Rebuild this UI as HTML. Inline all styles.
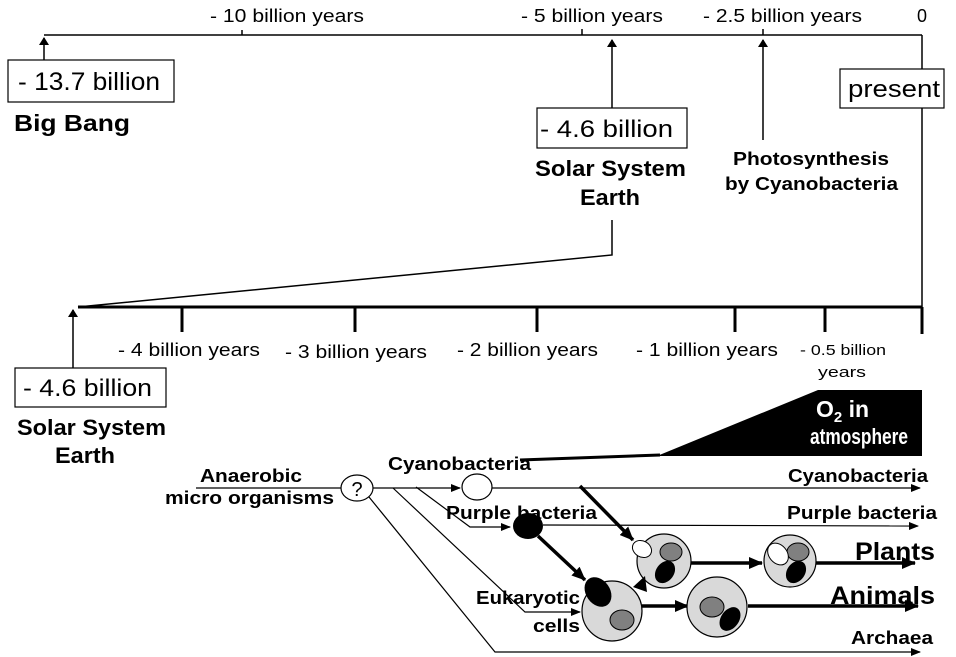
<!DOCTYPE html>
<html><head><meta charset="utf-8"><style>
html,body{margin:0;padding:0;background:#fff;}
svg{display:block;font-family:"Liberation Sans",Arial,sans-serif;}
.b{font-weight:bold;}
</style></head><body>
<svg width="956" height="657" viewBox="0 0 956 657" xmlns="http://www.w3.org/2000/svg">
<defs>
<marker id="a" markerWidth="10" markerHeight="8" refX="9" refY="4" orient="auto" markerUnits="userSpaceOnUse"><path d="M0,0 L10,4 L0,8 z" fill="#000"/></marker>
<marker id="at" markerWidth="8" markerHeight="10" refX="7" refY="5" orient="auto" markerUnits="userSpaceOnUse"><path d="M0,0 L8,5 L0,10 z" fill="#000"/></marker>
<marker id="ab" markerWidth="14" markerHeight="12" refX="13" refY="6" orient="auto" markerUnits="userSpaceOnUse"><path d="M0,0 L14,6 L0,12 z" fill="#000"/></marker>
</defs>
<g stroke="#000" stroke-width="1.5" fill="none">
<line x1="44" y1="35" x2="922" y2="35"/>
<line x1="242" y1="30" x2="242" y2="35"/>
<line x1="582" y1="29" x2="582" y2="35"/>
<line x1="763" y1="29" x2="763" y2="35"/>
<line x1="922" y1="35" x2="922" y2="69"/>
<line x1="922" y1="108" x2="922" y2="320"/>
<line x1="44" y1="60" x2="44" y2="38" marker-end="url(#at)"/>
<line x1="612" y1="108" x2="612" y2="40" marker-end="url(#at)"/>
<line x1="763" y1="140" x2="763" y2="40" marker-end="url(#at)"/>
<polyline points="612,220 612,255 78,307"/>
</g>
<g font-size="18">
<text x="210" y="22" textLength="154" lengthAdjust="spacingAndGlyphs">- 10 billion years</text>
<text x="521" y="22" textLength="142" lengthAdjust="spacingAndGlyphs">- 5 billion years</text>
<text x="703" y="22" textLength="159" lengthAdjust="spacingAndGlyphs">- 2.5 billion years</text>
<text x="917" y="22">0</text>
</g>
<rect x="8" y="60" width="166" height="42" fill="#fff" stroke="#000" stroke-width="1.2"/>
<text x="18" y="90" font-size="25" textLength="142" lengthAdjust="spacingAndGlyphs">- 13.7 billion</text>
<text x="14" y="131" font-size="23" class="b" textLength="116" lengthAdjust="spacingAndGlyphs">Big Bang</text>
<rect x="537" y="108" width="150" height="40" fill="#fff" stroke="#000" stroke-width="1.2"/>
<text x="540" y="137" font-size="24" textLength="133" lengthAdjust="spacingAndGlyphs">- 4.6 billion</text>
<text x="535" y="176" font-size="22" class="b" textLength="151" lengthAdjust="spacingAndGlyphs">Solar System</text>
<text x="580" y="205" font-size="22" class="b" textLength="60" lengthAdjust="spacingAndGlyphs">Earth</text>
<text x="733" y="165" font-size="18" class="b" textLength="156" lengthAdjust="spacingAndGlyphs">Photosynthesis</text>
<text x="725" y="190" font-size="18" class="b" textLength="173" lengthAdjust="spacingAndGlyphs">by Cyanobacteria</text>
<rect x="840" y="69" width="104" height="39" fill="#fff" stroke="#000" stroke-width="1.2"/>
<text x="848" y="97" font-size="24" textLength="92" lengthAdjust="spacingAndGlyphs">present</text>
<g stroke="#000" fill="none">
<line x1="78" y1="307" x2="922" y2="307" stroke-width="3"/>
<g stroke-width="3">
<line x1="182" y1="307" x2="182" y2="332"/>
<line x1="355" y1="307" x2="355" y2="332"/>
<line x1="537" y1="307" x2="537" y2="332"/>
<line x1="735" y1="307" x2="735" y2="332"/>
<line x1="825" y1="307" x2="825" y2="332"/>
<line x1="922" y1="307" x2="922" y2="334"/>
</g>
<line x1="73" y1="370" x2="73" y2="310" stroke-width="1.5" marker-end="url(#at)"/>
</g>
<g font-size="18">
<text x="118" y="356" textLength="142" lengthAdjust="spacingAndGlyphs">- 4 billion years</text>
<text x="285" y="358" textLength="142" lengthAdjust="spacingAndGlyphs">- 3 billion years</text>
<text x="457" y="356" textLength="141" lengthAdjust="spacingAndGlyphs">- 2 billion years</text>
<text x="636" y="356" textLength="142" lengthAdjust="spacingAndGlyphs">- 1 billion years</text>
<text x="800" y="355" font-size="15" textLength="86" lengthAdjust="spacingAndGlyphs">- 0.5 billion</text>
<text x="818" y="377" font-size="15" textLength="48" lengthAdjust="spacingAndGlyphs">years</text>
</g>
<rect x="15" y="368" width="151" height="39" fill="#fff" stroke="#000" stroke-width="1.2"/>
<text x="23" y="396" font-size="24" textLength="129" lengthAdjust="spacingAndGlyphs">- 4.6 billion</text>
<text x="17" y="435" font-size="22" class="b" textLength="149" lengthAdjust="spacingAndGlyphs">Solar System</text>
<text x="55" y="463" font-size="22" class="b" textLength="60" lengthAdjust="spacingAndGlyphs">Earth</text>
<line x1="520" y1="460" x2="660" y2="455" stroke="#000" stroke-width="3"/>
<polygon points="657,456 818,390 922,390 922,456" fill="#000"/>
<text x="816" y="417" font-size="23" class="b" fill="#fff">O<tspan font-size="15" dy="5">2</tspan><tspan dy="-5"> in</tspan></text>
<text x="810" y="444" font-size="22" class="b" fill="#fff" textLength="98" lengthAdjust="spacingAndGlyphs">atmosphere</text>
<g font-size="18" class="b">
<text x="200" y="482" textLength="102" lengthAdjust="spacingAndGlyphs">Anaerobic</text>
<text x="165" y="504" textLength="169" lengthAdjust="spacingAndGlyphs">micro organisms</text>
<text x="388" y="470" textLength="143" lengthAdjust="spacingAndGlyphs">Cyanobacteria</text>
<text x="446" y="519" textLength="151" lengthAdjust="spacingAndGlyphs">Purple bacteria</text>
<text x="788" y="482" textLength="140" lengthAdjust="spacingAndGlyphs">Cyanobacteria</text>
<text x="787" y="519" textLength="150" lengthAdjust="spacingAndGlyphs">Purple bacteria</text>
<text x="476" y="604" textLength="104" lengthAdjust="spacingAndGlyphs">Eukaryotic</text>
<text x="533" y="632" textLength="47" lengthAdjust="spacingAndGlyphs">cells</text>
<text x="851" y="644" textLength="82" lengthAdjust="spacingAndGlyphs">Archaea</text>
<text x="855" y="560" font-size="25" textLength="80" lengthAdjust="spacingAndGlyphs">Plants</text>
<text x="830" y="604" font-size="25" textLength="105" lengthAdjust="spacingAndGlyphs">Animals</text>
</g>
<g stroke="#000" stroke-width="1.2" fill="none">
<line x1="196" y1="488" x2="341" y2="488"/>
<line x1="373" y1="488" x2="460" y2="488" marker-end="url(#a)"/>
<line x1="492" y1="488" x2="920" y2="488" marker-end="url(#a)"/>
<polyline points="416,487 470,527 510,527" marker-end="url(#a)"/>
<line x1="543" y1="525" x2="918" y2="526" marker-end="url(#a)"/>
<polyline points="393,488 525,612 580,612" marker-end="url(#a)"/>
<polyline points="369,497 495,652 920,652" marker-end="url(#a)"/>
</g>
<ellipse cx="357" cy="488" rx="16" ry="13" fill="#fff" stroke="#000" stroke-width="1.2"/>
<text x="357" y="496" font-size="20" text-anchor="middle">?</text>
<ellipse cx="477" cy="487" rx="15" ry="13" fill="#fff" stroke="#000" stroke-width="1.2"/>
<ellipse cx="528" cy="526" rx="15" ry="13" fill="#000"/>
<g stroke="#000" stroke-width="3.5" fill="none">
<line x1="580" y1="486" x2="633" y2="540" marker-end="url(#ab)"/>
<line x1="538" y1="536" x2="585" y2="580" marker-end="url(#ab)"/>
<line x1="642" y1="606" x2="688" y2="606" marker-end="url(#ab)"/>
<line x1="748" y1="606" x2="918" y2="606" marker-end="url(#ab)"/>
<line x1="690" y1="563" x2="762" y2="563" marker-end="url(#ab)"/>
<line x1="816" y1="563" x2="915" y2="563" marker-end="url(#ab)"/>
</g>
<circle cx="612" cy="611" r="30" fill="#d9d9d9" stroke="#000" stroke-width="1.2"/>
<ellipse cx="598" cy="592" rx="12" ry="16" transform="rotate(-35 598 592)" fill="#000"/>
<ellipse cx="622" cy="620" rx="12" ry="10" fill="#808080" stroke="#000" stroke-width="1"/>
<circle cx="717" cy="607" r="30" fill="#d9d9d9" stroke="#000" stroke-width="1.2"/>
<ellipse cx="712" cy="607" rx="12" ry="10" fill="#808080" stroke="#000" stroke-width="1"/>
<ellipse cx="730" cy="619" rx="9" ry="13" transform="rotate(35 730 619)" fill="#000"/>
<circle cx="664" cy="561" r="27" fill="#d9d9d9" stroke="#000" stroke-width="1.2"/>
<polygon points="633,587 645,576 647,592" fill="#000"/>
<ellipse cx="671" cy="552" rx="11" ry="9" fill="#808080" stroke="#000" stroke-width="1"/>
<ellipse cx="665" cy="572" rx="9" ry="12" transform="rotate(35 665 572)" fill="#000"/>
<ellipse cx="642" cy="549" rx="10" ry="8" transform="rotate(30 642 549)" fill="#fff" stroke="#000" stroke-width="1"/>
<circle cx="790" cy="561" r="26" fill="#d9d9d9" stroke="#000" stroke-width="1.2"/>
<ellipse cx="798" cy="552" rx="11" ry="9" fill="#808080" stroke="#000" stroke-width="1"/>
<ellipse cx="796" cy="572" rx="9" ry="12" transform="rotate(35 796 572)" fill="#000"/>
<ellipse cx="778" cy="554" rx="9" ry="12" transform="rotate(-40 778 554)" fill="#fff" stroke="#000" stroke-width="1"/>
</svg>
</body></html>
